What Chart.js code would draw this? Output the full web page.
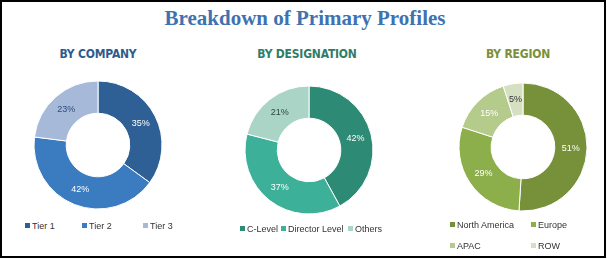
<!DOCTYPE html>
<html lang="en">
<head>
<meta charset="UTF-8">
<title>Breakdown of Primary Profiles</title>
<script src="https://cdn.jsdelivr.net/npm/chart.js@4/dist/chart.umd.min.js"></script>
<style>
    html,body{margin:0;padding:0;background:#fff;}
    #frame{position:absolute;left:0;top:0;width:606px;height:258px;box-sizing:border-box;border:2px solid #000;overflow:hidden;}
    #title{position:absolute;left:0;top:4px;width:606px;text-align:center;font:bold 21px "Liberation Serif","DejaVu Serif",serif;color:#3E72B0;}
    .sub{position:absolute;top:45px;width:200px;text-align:center;font-family:"DejaVu Sans";font-stretch:condensed;font-weight:bold;font-size:12px;letter-spacing:-0.2px;}
    .box{position:absolute;width:150px;height:150px;}
    .leg{position:absolute;font:9px "Liberation Sans",Arial,sans-serif;color:#333;white-space:nowrap;line-height:10px;}
    .leg i{display:inline-block;width:5px;height:5px;margin-right:2px;vertical-align:1px;}
</style>
</head>
<body>
<div id="frame">
    <div id="title">Breakdown of Primary Profiles</div>
    <div class="sub" style="left:-4px;color:#2E5B8C">BY COMPANY</div>
    <div class="sub" style="left:205px;color:#2F7C68">BY DESIGNATION</div>
    <div class="sub" style="left:416px;color:#7C8F3A">BY REGION</div>
    <div class="box" style="left:21px;top:68px"><canvas id="c1"></canvas></div>
    <div class="box" style="left:232px;top:73px"><canvas id="c2"></canvas></div>
    <div class="box" style="left:446px;top:70px"><canvas id="c3"></canvas></div>
</div>
<script>
// data
const companyLabels=["Tier 1","Tier 2","Tier 3"];
const companyValues=[35,42,23];
const designationLabels=["C-Level","Director Level","Others"];
const designationValues=[42,37,21];
const regionLabels=["North America","Europe","APAC","ROW"];
const regionValues=[51,29,15,5];

const companyColors=["#2E6096","#3B7BC0","#A6B9D9"];
const designationColors=["#2D8A75","#3CB098","#A9D4C6"];
const regionColors=["#76913A","#8DAF4B","#B5CB8C","#D5E0C2"];

// label text colour per slice (dark text on the light slices)
const companyText=["#fff","#fff","#2D4F7C"];
const designationText=["#fff","#fff","#2E4A44"];
const regionText=["#fff","#fff","#fff","#333"];

// draws the % labels in the middle of each slice
const pctLabels={
    id:"pctLabels",
    afterDatasetsDraw(chart){
        const ctx=chart.ctx;
        const meta=chart.getDatasetMeta(0);
        const ds=chart.data.datasets[0];
        ctx.save();
        ctx.font="9px 'Liberation Sans', Arial, sans-serif";
        ctx.textAlign="center";
        ctx.textBaseline="middle";
        meta.data.forEach((arc,i)=>{
            const p=arc.tooltipPosition();
            ctx.fillStyle=ds.textColors[i];
            ctx.fillText(ds.data[i]+"%",p.x,p.y);
        });
        ctx.restore();
    }
};

function makeDonut(id,labels,values,colors,textColors){
    return new Chart(document.getElementById(id),{
        type:"doughnut",
        data:{
            labels:labels,
            datasets:[{
                data:values,
                backgroundColor:colors,
                borderColor:"#fff",
                borderWidth:1,
                textColors:textColors
            }]
        },
        options:{
            responsive:true,
            maintainAspectRatio:false,
            animation:false,
            radius:64,
            cutout:37,
            layout:{padding:0},
            plugins:{legend:{display:false},tooltip:{enabled:false}}
        },
        plugins:[pctLabels]
    });
}

makeDonut("c1",companyLabels,companyValues,companyColors,companyText);
makeDonut("c2",designationLabels,designationValues,designationColors,designationText);
makeDonut("c3",regionLabels,regionValues,regionColors,regionText);

// legends, placed like the picture
function legend(labels,colors,spots){
    labels.forEach((l,i)=>{
        const d=document.createElement("div");
        d.className="leg";
        d.style.left=spots[i][0]+"px";
        d.style.top=spots[i][1]+"px";
        d.innerHTML='<i style="background:'+colors[i]+'"></i>'+l;
        document.getElementById("frame").appendChild(d);
    });
}
legend(companyLabels,companyColors,[[23,219],[80,219],[141,219]]);
legend(designationLabels,designationColors,[[238,222],[279,222],[346,222]]);
legend(regionLabels,regionColors,[[448,218],[529,218],[448,239],[529,239]]);
</script>
</body>
</html>
